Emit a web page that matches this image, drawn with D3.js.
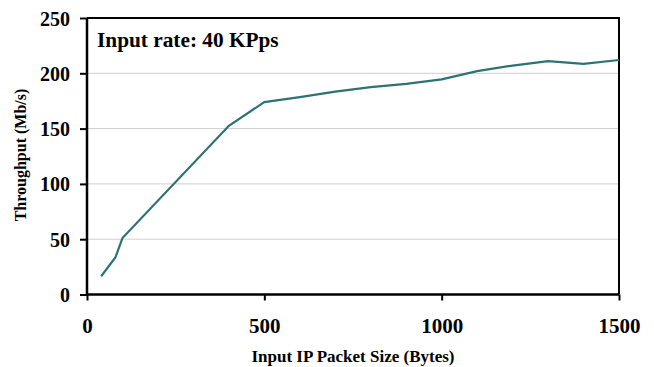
<!DOCTYPE html>
<html lang="en">
<head>
<meta charset="utf-8">
<title>Throughput vs packet size</title>
<script src="https://d3js.org/d3.v7.min.js"></script>
<style>
  body { margin: 0; background: #fff; }
  text { font-family: "Liberation Serif", "Times New Roman", serif; font-weight: bold; }
</style>
</head>
<body>
<script>
// data
var packetSizes = [40, 80, 100, 400, 500, 600, 700, 800, 900, 1000, 1100, 1200, 1300, 1400, 1500];
var throughput = [16.5, 33.5, 51, 152.5, 174, 178.5, 183.5, 187.5, 190.5, 194.5, 202, 207, 211, 208.5, 212];
var xTicks = [0, 500, 1000, 1500];
var yTicks = [0, 50, 100, 150, 200, 250];

var w = 654, h = 367;
var padL = 87, padR = 619, padT = 18, padB = 294.5;

var svg = d3.select("body").append("svg")
    .attr("width", w)
    .attr("height", h);

var xScale = d3.scaleLinear().domain([0, 1500]).range([padL, padR]);
var yScale = d3.scaleLinear().domain([0, 250]).range([padB, padT]);

// gridlines
svg.append("g")
   .selectAll("line")
   .data(yTicks.slice(1, -1))
   .enter()
   .append("line")
   .attr("x1", padL).attr("x2", padR)
   .attr("y1", function(d) { return yScale(d); })
   .attr("y2", function(d) { return yScale(d); })
   .attr("stroke", "#cfcfcf")
   .attr("stroke-width", 1);

// top and right frame
svg.append("path")
   .attr("d", "M" + padL + "," + padT + "H" + padR + "V" + padB)
   .attr("fill", "none")
   .attr("stroke", "#000")
   .attr("stroke-width", 2);

// line
var line = d3.line()
    .x(function(d, i) { return xScale(packetSizes[i]); })
    .y(function(d) { return yScale(d); });

svg.append("path")
   .datum(throughput)
   .attr("d", line)
   .attr("fill", "none")
   .attr("stroke", "#2e7373")
   .attr("stroke-width", 2.2);

// axes
var xAxis = d3.axisBottom(xScale).tickValues(xTicks).tickFormat(d3.format("d")).tickSize(6).tickPadding(17.5);
var yAxis = d3.axisLeft(yScale).tickValues(yTicks).tickFormat(d3.format("d")).tickSize(7).tickPadding(10);

var gx = svg.append("g")
   .attr("transform", "translate(0," + padB + ")")
   .call(xAxis);
var gy = svg.append("g")
   .attr("transform", "translate(" + padL + ",0)")
   .call(yAxis);

[gx, gy].forEach(function(g) {
  g.select(".domain").attr("stroke", "#000").attr("stroke-width", 2.5);
  g.selectAll(".tick line").attr("stroke", "#000").attr("stroke-width", 2);
  g.selectAll(".tick text")
   .attr("fill", "#000")
   .attr("font-family", "Liberation Serif, serif")
   .attr("font-weight", "bold");
});
gx.selectAll(".tick text").attr("font-size", "21px");
gy.selectAll(".tick text").attr("font-size", "20px").attr("dy", "0.35em");
gy.select(".domain").attr("d", "M0," + padT + "V" + padB);
gx.select(".domain").attr("d", "M" + padL + ",0H" + padR);

// labels
svg.append("text")
   .attr("x", 97)
   .attr("y", 47)
   .attr("font-size", "21.3px")
   .text("Input rate: 40 KPps");

svg.append("text")
   .attr("x", 353)
   .attr("y", 362)
   .attr("text-anchor", "middle")
   .attr("font-size", "17px")
   .text("Input IP Packet Size (Bytes)");

svg.append("text")
   .attr("transform", "translate(26,155) rotate(-90)")
   .attr("text-anchor", "middle")
   .attr("font-size", "16px")
   .text("Throughput (Mb/s)");
</script>
</body>
</html>
